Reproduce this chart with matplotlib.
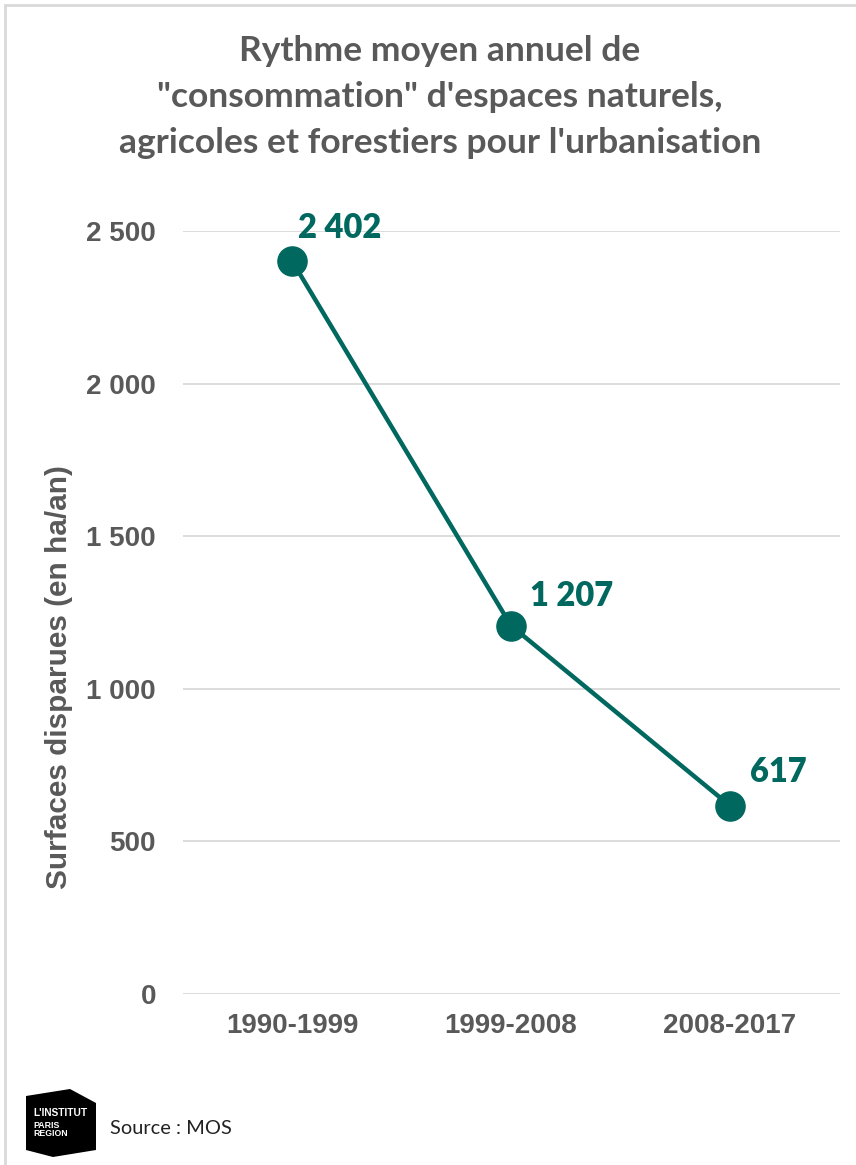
import matplotlib.pyplot as plt
from matplotlib.patches import Polygon, Rectangle

# Data
periods = ['1990-1999', '1999-2008', '2008-2017']
surfaces = [2402, 1207, 617]
value_labels = ['2 402', '1 207', '617']
y_ticks = [0, 500, 1000, 1500, 2000, 2500]
y_tick_labels = ['0', '500', '1 000', '1 500', '2 000', '2 500']

# label offsets (points) as placed by the original chart
label_dx = [4.5, 13.5, 14.5]
label_dy = [24, 21, 24]

teal = '#00685F'
gray = '#595959'
W, H = 856, 1165

fig = plt.figure(figsize=(W / 100, H / 100), dpi=100)
ax = fig.add_axes([182.5 / W, 1 - 994 / H, 657 / W, 763 / H])

x = list(range(len(periods)))
ax.plot(x, surfaces, color=teal, linewidth=3.2, marker='o', markersize=21,
        clip_on=False, zorder=3)

for xi, yi, lab, dx, dy in zip(x, surfaces, value_labels, label_dx, label_dy):
    ax.annotate(lab, (xi, yi), xytext=(dx, dy), textcoords='offset points',
                ha='left', va='center', color=teal, fontsize=23.5,
                fontweight='heavy', family='Lato')

ax.set_xlim(-0.5, 2.5)
ax.set_ylim(0, 2500)
ax.set_xticks(x)
ax.set_xticklabels(periods, fontsize=20, fontweight='bold',
                   family='Liberation Sans', color=gray)
ax.set_yticks(y_ticks)
ax.set_yticklabels(y_tick_labels, fontsize=20, fontweight='bold',
                   family='Liberation Sans', color=gray)
ax.tick_params(axis='both', length=0)
ax.tick_params(axis='y', pad=19)
ax.tick_params(axis='x', pad=14)
ax.grid(axis='y', color='#D9D9D9', linewidth=1.3)
ax.set_axisbelow(True)
for s in ax.spines.values():
    s.set_visible(False)

ax.set_ylabel('Surfaces disparues (en ha/an)', fontsize=21.4, fontweight='bold',
              family='Liberation Sans', color=gray)
ax.yaxis.set_label_coords(-0.167, 0.415)

# Title
title_lines = ['Rythme moyen annuel de',
               '"consommation" d\'espaces naturels,',
               'agricoles et forestiers pour l\'urbanisation']
for i, line in enumerate(title_lines):
    fig.text(440 / W, 1 - (51 + 46 * i) / H, line, ha='center', va='center',
             fontsize=25.5, fontweight='bold', family='Lato', color=gray)

# Frame
fig.add_artist(Rectangle((5 / W, -0.1), 1.0, 1 - 5 / H + 0.1,
                         transform=fig.transFigure, fill=False,
                         edgecolor='#D9D9D9', linewidth=2))

# Logo
logo = [(26, 1096), (70, 1089), (96, 1103), (96, 1150), (53, 1157), (26, 1150)]
fig.add_artist(Polygon([(px / W, 1 - py / H) for px, py in logo], closed=True,
                       transform=fig.transFigure, facecolor='black',
                       edgecolor='none'))
fig.text(33 / W, 1 - 1113 / H, "L'INSTITUT", fontsize=7.3, fontweight='bold',
         color='white', va='center', family='Liberation Sans')
fig.text(33 / W, 1 - 1126 / H, 'PARIS', fontsize=6.3, fontweight='bold',
         color='white', va='center', family='Liberation Sans')
fig.text(33 / W, 1 - 1134 / H, 'REGION', fontsize=6.3, fontweight='bold',
         color='white', va='center', family='Liberation Sans')
fig.text(110 / W, 1 - 1129 / H, 'Source : MOS', fontsize=14.4, color='#222222',
         va='center', family='Lato')

fig.savefig('out.png', dpi=100)
